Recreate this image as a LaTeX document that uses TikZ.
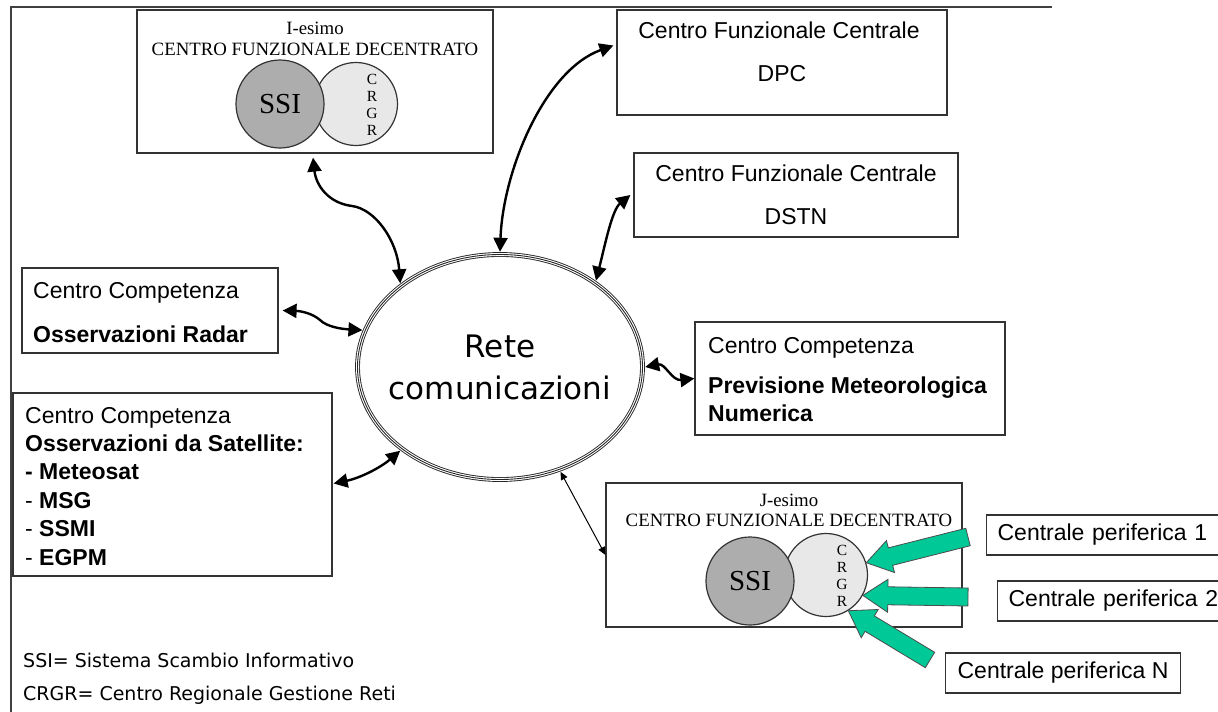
\documentclass[tikz,border=0pt]{standalone}
\usepackage{fontspec}
\setmainfont{Liberation Sans}
\newfontfamily\serifcfd{Liberation Serif}
\newfontfamily\handfont{DejaVu Sans}
\usetikzlibrary{positioning,calc,arrows.meta,shapes.geometric}
\definecolor{feedgreen}{RGB}{0,200,150}

\tikzset{
  box/.style={draw=black!80, line width=1.2pt, inner sep=0pt},
  lbl/.style={anchor=base west, inner sep=0pt, font=\fontsize{23}{27}\selectfont},
  lblc/.style={anchor=base, inner sep=0pt, font=\fontsize{23}{27}\selectfont},
  cfdtitle/.style={anchor=base, inner sep=0pt, font=\serifcfd\fontsize{18.8}{22}\selectfont},
  ssi/.style={circle, draw=black!80, line width=1.2pt, fill=black!32, minimum size=88pt, inner sep=0pt, font=\serifcfd\fontsize{29}{34}\selectfont},
  crgr/.style={circle, draw=black!80, line width=1.2pt, fill=black!9, minimum size=83pt, inner sep=0pt},
  letter/.style={anchor=base, inner sep=0pt, font=\serifcfd\fontsize{15.5}{17}\selectfont},
  ring/.style={draw=black!85, line width=0.9pt},
  link/.style={line width=2.4pt, {Triangle[length=14pt,width=14pt]}-{Triangle[length=14pt,width=14pt]}},
  thinlink/.style={line width=1pt, {Triangle[length=8pt,width=7pt]}-{Triangle[length=8pt,width=7pt]}},
  feed/.style={draw=black!70, line width=0.8pt, fill=feedgreen},
  perbox/.style={box, minimum height=40pt, inner xsep=11pt, anchor=west, font=\fontsize{23}{27}\selectfont},
  legend/.style={anchor=base west, inner sep=0pt, font=\handfont\fontsize{19}{22}\selectfont},
}

% green feed arrow: #1 tail, #2 tip
\newcommand{\feedarrow}[2]{%
  \draw[feed] (#2) -- ($(#2)!25pt!(#1)!16.5pt!90:(#1)$) -- ($(#2)!25pt!(#1)!9pt!90:(#1)$)
    -- ($(#1)!9pt!-90:(#2)$) -- ($(#1)!9pt!90:(#2)$)
    -- ($(#2)!25pt!(#1)!9pt!-90:(#1)$) -- ($(#2)!25pt!(#1)!16.5pt!-90:(#1)$) -- cycle;}

\begin{document}
\begin{tikzpicture}[x=1pt,y=-1pt]
\useasboundingbox (0,0) rectangle (1218,712);
\clip (0,0) rectangle (1218,712);

%Frame
\draw[black!75, line width=1.2pt] (11,712) -- (11,7);
\draw[black!75, line width=2.4pt] (10,7) -- (1052,7);

%I-esimo centro decentrato
\node (cfdI) [box, minimum width=356pt, minimum height=143pt] at (315,81.5) {};
\node (cfdI-n) [cfdtitle] at (315,34.5) {I-esimo};
\node (cfdI-t) [cfdtitle] at (315,55) {CENTRO FUNZIONALE DECENTRATO};
\node (crgrI) [crgr] at (356,104) {};
\node (ssiI) [ssi] at (280,104) {SSI};
\foreach \l/\dy [count=\i] in {C/-20,R/-3,G/14,R/31}
  \node (crgrI-\i) [letter] at ($(crgrI.center)+(16,\dy)$) {\l};

%J-esimo centro decentrato
\node (cfdJ) [box, minimum width=356pt, minimum height=144pt] at (784,555) {};
\node (cfdJ-n) [cfdtitle] at (789,506) {J-esimo};
\node (cfdJ-t) [cfdtitle] at (789,526) {CENTRO FUNZIONALE DECENTRATO};
\node (crgrJ) [crgr] at (826,575) {};
\node (ssiJ) [ssi] at (750,581) {SSI};
\foreach \l/\dy [count=\i] in {C/-20,R/-3,G/14,R/31}
  \node (crgrJ-\i) [letter] at ($(crgrJ.center)+(16,\dy)$) {\l};

%Centri funzionali centrali
\node (dpc) [box, minimum width=330pt, minimum height=105pt] at (782,62.5) {};
\node (dpc-a) [lblc] at (779,38) {Centro Funzionale Centrale};
\node (dpc-b) [lblc] at (782,81) {DPC};
\node (dstn) [box, minimum width=324pt, minimum height=84pt] at (796,195) {};
\node (dstn-a) [lblc] at (796,181) {Centro Funzionale Centrale};
\node (dstn-b) [lblc] at (796,224) {DSTN};

%Centri competenza
\node (radar) [box, minimum width=256pt, minimum height=85pt] at (150,310.5) {};
\node (radar-a) [lbl] at (33,298) {Centro Competenza};
\node (radar-b) [lbl] at (33,342) {\textbf{Osservazioni Radar}};
\node (sat) [box, minimum width=319pt, minimum height=183pt] at (172.5,484.5) {};
\foreach \t [count=\i] in {Centro Competenza, \textbf{Osservazioni da Satellite:}, \textbf{- Meteosat}, - \textbf{MSG}, - \textbf{SSMI}, - \textbf{EGPM}}
  \node (sat-\i) [lbl] at (25,{423+28.4*(\i-1)}) {\t};
\node (pmn) [box, minimum width=310pt, minimum height=113pt] at (850,378.5) {};
\node (pmn-a) [lbl] at (708,353) {Centro Competenza};
\node (pmn-b) [lbl] at (708,393) {\textbf{Previsione Meteorologica}};
\node (pmn-c) [lbl] at (708,421) {\textbf{Numerica}};

%Centrali periferiche
\node (per1) [perbox, text width=240pt, align=left] at (986,535) {Centrale periferica 1};
\node (per2) [perbox, text width=240pt, align=left] at (997,601) {Centrale periferica 2};
\node (per3) [perbox, inner xsep=12pt] at (945,673) {Centrale periferica N};

%Rete comunicazioni
\node (rete) [ellipse, minimum width=290pt, minimum height=230pt, inner sep=0pt] at (500,367) {};
\draw[ring, double distance=3pt] (rete.center) ellipse [x radius=142.5pt, y radius=112.5pt];
\draw[ring] (rete.center) ellipse [x radius=142.5pt, y radius=112.5pt];
\node (rete-t) [align=center, inner sep=0pt, font=\handfont\fontsize{31}{42}\selectfont] at (rete.center) {Rete\\comunicazioni};

%Links
\draw[link] ($(cfdI.south)+(-2,4)$) .. controls (316,185) and (328,203) .. (352,206) .. controls (375,209) and (397,240) .. (rete.140);
\draw[link] (rete.90) .. controls (503,170) and (545,70) .. ($(dpc.west)+(-3,-17)$);
\draw[link] (rete.42) .. controls (605,245) and (612,210) .. ($(dstn.west)+(-3,0)$);
\draw[link] ($(radar.east)+(4,0)$) .. controls (300,311) and (312,313) .. (320,320) .. controls (327,327) and (342,329) .. (rete.165);
\draw[link] ($(sat.east)+(1,-1)$) .. controls (360,478) and (380,468) .. (rete.220);
\draw[link] (rete.east) .. controls (665,363) and (672,381) .. (pmn.west);
\draw[thinlink] (rete.-60) -- (cfdJ.west);

%Feed arrows
\coordinate (feed1) at ($(per1.west)+(-18,2)$);
\coordinate (feed2) at ($(per2.west)+(-29,-4)$);
\coordinate (feed3) at ($(per3.west)+(-15,-13)$);
\feedarrow{feed1}{crgrJ.17}
\feedarrow{feed2}{crgrJ.-29}
\feedarrow{feed3}{crgrJ.-58}

%Legend
\node (leg1) [legend] at (23,667) {SSI= Sistema Scambio Informativo};
\node (leg2) [legend] at (23,700) {CRGR= Centro Regionale Gestione Reti};
\end{tikzpicture}
\end{document}
